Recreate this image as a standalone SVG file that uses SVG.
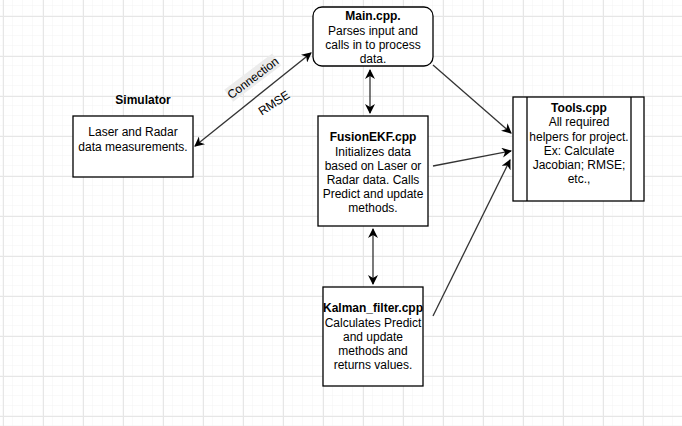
<svg xmlns="http://www.w3.org/2000/svg" width="682" height="426" viewBox="0 0 682 426">
<defs>
<pattern id="minor" x="3" y="6" width="10" height="10" patternUnits="userSpaceOnUse">
<path d="M10 0V10M0 10H10" fill="none" stroke="#f3f3f3" stroke-width="1"/>
</pattern>
<pattern id="major" x="3" y="16" width="40" height="40" patternUnits="userSpaceOnUse">
<path d="M0.5 0V40M0 0.5H40" fill="none" stroke="#e6e6e6" stroke-width="1"/>
</pattern>
<marker id="ah" viewBox="0 0 10 10" refX="9" refY="5" markerWidth="10" markerHeight="10" markerUnits="userSpaceOnUse" orient="auto-start-reverse">
<path d="M0 0L10 5L0 10L3 5Z" fill="#000"/>
</marker>
<style>
.box{fill:#fff;stroke:#000;stroke-width:1.3}
.t{font-family:"Liberation Sans",Arial,sans-serif;font-size:12px;fill:#000;text-anchor:middle}
.b{font-weight:bold}
.c{fill:none;stroke:#333;stroke-width:1.3}
</style>
</defs>
<rect width="682" height="426" fill="#fff"/>
<rect width="682" height="426" fill="url(#minor)"/>
<rect width="682" height="426" fill="url(#major)"/>

<g id="connectors">
<line class="c" x1="195" y1="146" x2="311" y2="53" marker-start="url(#ah)" marker-end="url(#ah)"/>
<line class="c" x1="370" y1="70" x2="370" y2="113" marker-start="url(#ah)" marker-end="url(#ah)"/>
<line class="c" x1="373" y1="229" x2="373" y2="284" marker-start="url(#ah)" marker-end="url(#ah)"/>
<line class="c" x1="433" y1="65" x2="511" y2="133" marker-end="url(#ah)"/>
<line class="c" x1="433" y1="166" x2="511" y2="151" marker-end="url(#ah)"/>
<line class="c" x1="433" y1="316" x2="510" y2="160" marker-end="url(#ah)"/>
<g transform="translate(253,78) rotate(-37)">
<rect x="-30" y="-8" width="60" height="15" fill="#ececec"/>
<text class="t" x="0" y="4">Connection</text>
</g>
<text class="t" transform="translate(274,103) rotate(-33)" y="4">RMSE</text>
</g>

<g id="main">
<rect class="box" x="313" y="7" width="120" height="59" rx="9"/>
<text class="t b" x="373" y="20">Main.cpp.</text>
<text class="t" x="373" y="35">Parses input and</text>
<text class="t" x="373" y="49">calls in to process</text>
<text class="t" x="373" y="63">data.</text>
</g>

<g id="simulator">
<text class="t b" x="143" y="104">Simulator</text>
<rect class="box" x="73" y="116" width="120" height="61"/>
<text class="t" x="133" y="136">Laser and Radar</text>
<text class="t" x="133" y="151">data measurements.</text>
</g>

<g id="tools">
<rect class="box" x="513" y="97" width="131" height="104"/>
<line class="box" x1="527" y1="97" x2="527" y2="201"/>
<line class="box" x1="631" y1="97" x2="631" y2="201"/>
<text class="t b" x="579" y="112">Tools.cpp</text>
<text class="t" x="579" y="126">All required</text>
<text class="t" x="579" y="141">helpers for project.</text>
<text class="t" x="579" y="155">Ex: Calculate</text>
<text class="t" x="579" y="169">Jacobian; RMSE;</text>
<text class="t" x="579" y="183">etc.,</text>
</g>

<g id="fusionekf">
<rect class="box" x="318" y="116" width="110" height="110"/>
<text class="t b" x="373" y="141">FusionEKF.cpp</text>
<text class="t" x="373" y="156">Initializes data</text>
<text class="t" x="373" y="170">based on Laser or</text>
<text class="t" x="373" y="184">Radar data. Calls</text>
<text class="t" x="373" y="198">Predict and update</text>
<text class="t" x="373" y="212">methods.</text>
</g>

<g id="kalman">
<rect class="box" x="323" y="287" width="100" height="99"/>
<text class="t b" x="373" y="312">Kalman_filter.cpp</text>
<text class="t" x="373" y="327">Calculates Predict</text>
<text class="t" x="373" y="341">and update</text>
<text class="t" x="373" y="355">methods and</text>
<text class="t" x="373" y="369">returns values.</text>
</g>
</svg>
